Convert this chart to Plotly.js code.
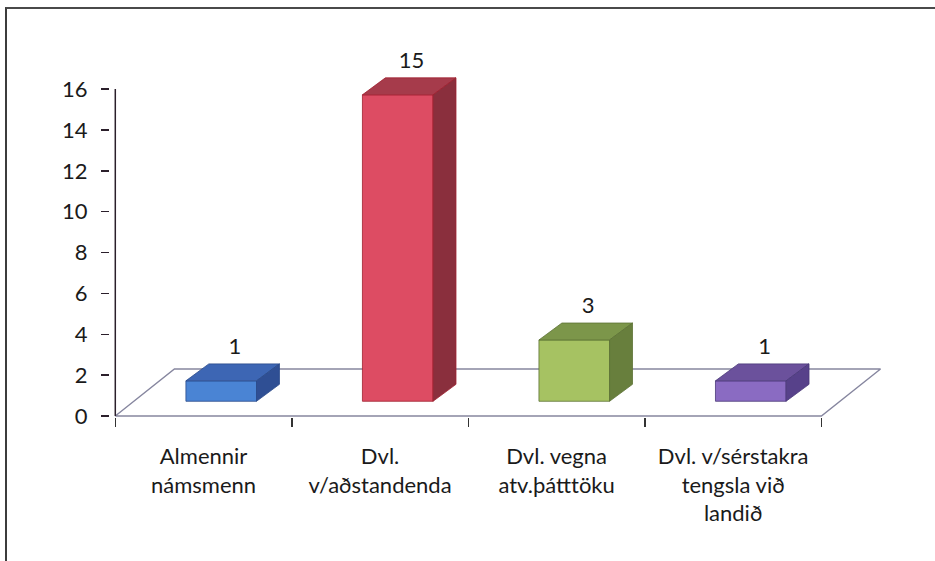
<!DOCTYPE html>
<html>
<head>
<meta charset="utf-8">
<script src="https://cdn.plot.ly/plotly-3.0.1.min.js"></script>
<style>
  html, body { margin: 0; padding: 0; background: #ffffff; }
  #wrap { position: relative; width: 935px; height: 561px; overflow: hidden; }
  #chart { position: absolute; left: 0; top: 0; width: 935px; height: 561px; }
  #frame { position: absolute; left: 5px; top: 7px; width: 960px; height: 600px;
           border-left: 2px solid #3c3c3c; border-top: 2px solid #4a4a4a; pointer-events: none; }
</style>
</head>
<body>
<div id="wrap">
  <div id="chart"></div>
  <div id="frame"></div>
</div>
<script>
// ---- data ----
const categories = ['Almennir<br>námsmenn', 'Dvl.<br>v/aðstandenda', 'Dvl. vegna<br>atv.þátttöku', 'Dvl. v/sérstakra<br>tengsla við<br>landið'];
const values = [1, 15, 3, 1];
const yTickVals = [0, 2, 4, 6, 8, 10, 12, 14, 16];
const frontColors = ['#4a84d4', '#dd4c63', '#a6c262', '#8a6bc2'];
const topColors   = ['#3d66b4', '#a63b4b', '#7c964a', '#6b519c'];
const sideColors  = ['#2f4f94', '#8a2f3d', '#687f3d', '#57418a'];
const edgeColors  = ['#2a4a8a', '#a0202f', '#5d7235', '#4a3878'];

// ---- pseudo-3D geometry (axis units) ----
const FACE_CENTER = 0.1;   // front face centre relative to category
const HALF_W = 0.2;        // half width of bar front face
const DX = 0.13;           // depth offset, x units
const DY = 0.83;           // depth offset, y units
const BASE = 0.72;         // bar base height on the floor
const FLOOR_DX = 0.335, FLOOR_DY = 2.3;

const font = 'Lato, "Open Sans", sans-serif';
const traces = [];

// floor
traces.push({
  type: 'scatter', mode: 'lines', hoverinfo: 'skip',
  x: [-0.5, 3.5, 3.5 + FLOOR_DX, -0.5 + FLOOR_DX, -0.5],
  y: [0, 0, FLOOR_DY, FLOOR_DY, 0],
  line: { color: '#86869f', width: 1.4 }
});
// y axis line (only to 16)
traces.push({
  type: 'scatter', mode: 'lines', hoverinfo: 'skip',
  x: [-0.5, -0.5], y: [0, yTickVals[yTickVals.length - 1]],
  line: { color: '#2b1f2b', width: 1.5 }
});

values.forEach((v, i) => {
  const x0 = i + FACE_CENTER - HALF_W, x1 = i + FACE_CENTER + HALF_W;
  const b = BASE, t = BASE + v;
  traces.push({ type: 'scatter', mode: 'lines', fill: 'toself', hoverinfo: 'skip',
    x: [x0, x1, x1, x0, x0], y: [b, b, t, t, b],
    fillcolor: frontColors[i], line: { color: edgeColors[i], width: 0.8 } });
  traces.push({ type: 'scatter', mode: 'lines', fill: 'toself', hoverinfo: 'skip',
    x: [x0, x1, x1 + DX, x0 + DX, x0], y: [t, t, t + DY, t + DY, t],
    fillcolor: topColors[i], line: { color: edgeColors[i], width: 0.8 } });
  traces.push({ type: 'scatter', mode: 'lines', fill: 'toself', hoverinfo: 'skip',
    x: [x1, x1 + DX, x1 + DX, x1, x1], y: [b, b + DY, t + DY, t, b],
    fillcolor: sideColors[i], line: { color: edgeColors[i], width: 0.8 } });
});

// value labels
traces.push({
  type: 'scatter', mode: 'text', hoverinfo: 'skip', cliponaxis: false,
  x: values.map((v, i) => i + FACE_CENTER + DX * 0.6),
  y: values.map(v => BASE + v + DY + 0.2),
  text: values.map(v => String(v)),
  textposition: 'top center',
  textfont: { family: font, size: 22, color: '#1a1a1a' }
});

const layout = {
  width: 935, height: 561,
  margin: { l: 110, r: 43, t: 38, b: 144 },
  paper_bgcolor: 'rgba(0,0,0,0)', plot_bgcolor: 'rgba(0,0,0,0)',
  showlegend: false,
  xaxis: {
    range: [-0.53, 3.9], showgrid: false, zeroline: false, showline: false,
    tickmode: 'array', tickvals: categories.map((c, i) => i), ticktext: categories,
    ticks: '', ticklabelstandoff: 24,
    tickfont: { family: font, size: 22, color: '#1a1a1a' },
    minor: { tickmode: 'array', tickvals: [-0.5, 0.5, 1.5, 2.5, 3.5], ticks: 'outside',
             ticklen: 9, tickwidth: 1.5, tickcolor: '#333333', showgrid: false },
    fixedrange: true
  },
  yaxis: {
    range: [-0.05, 18.5], showgrid: false, zeroline: false, showline: false,
    tickmode: 'array', tickvals: yTickVals, ticks: 'outside', ticklen: 8,
    tickwidth: 1.5, tickcolor: '#2b1f2b', ticklabelstandoff: 9,
    tickfont: { family: font, size: 22, color: '#1a1a1a' },
    fixedrange: true
  }
};

Plotly.newPlot('chart', traces, layout, { displayModeBar: false, staticPlot: true });
</script>
</body>
</html>
